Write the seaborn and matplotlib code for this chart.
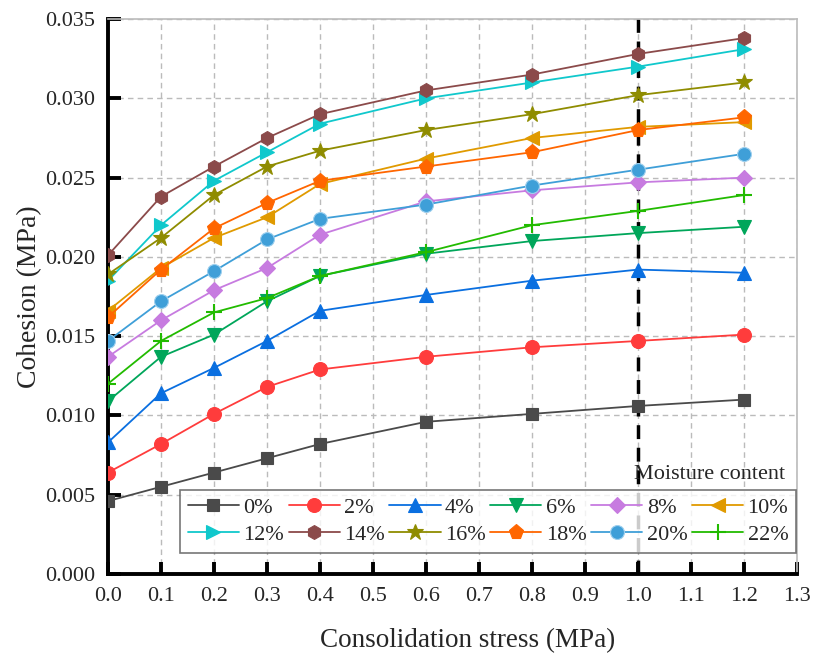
import numpy as np
import pandas as pd
import matplotlib
matplotlib.use("Agg")
import matplotlib.pyplot as plt
import seaborn as sns

# consolidation stress (MPa)
stress = [0.0, 0.1, 0.2, 0.3, 0.4, 0.6, 0.8, 1.0, 1.2]

moisture = ["0%", "2%", "4%", "6%", "8%", "10%",
            "12%", "14%", "16%", "18%", "20%", "22%"]

# cohesion (MPa)
c00 = [0.0046, 0.0055, 0.0064, 0.0073, 0.0082, 0.0096, 0.0101, 0.0106, 0.0110]
c02 = [0.0064, 0.0082, 0.0101, 0.0118, 0.0129, 0.0137, 0.0143, 0.0147, 0.0151]
c04 = [0.0083, 0.0114, 0.0130, 0.0147, 0.0166, 0.0176, 0.0185, 0.0192, 0.0190]
c06 = [0.0109, 0.0137, 0.0151, 0.0172, 0.0188, 0.0202, 0.0210, 0.0215, 0.0219]
c08 = [0.0137, 0.0160, 0.0179, 0.0193, 0.0214, 0.0235, 0.0242, 0.0247, 0.0250]
c10 = [0.0166, 0.0193, 0.0212, 0.0225, 0.0246, 0.0262, 0.0275, 0.0282, 0.0285]
c12 = [0.0185, 0.0220, 0.0248, 0.0266, 0.0284, 0.0300, 0.0310, 0.0320, 0.0331]
c14 = [0.0201, 0.0238, 0.0257, 0.0275, 0.0290, 0.0305, 0.0315, 0.0328, 0.0338]
c16 = [0.0189, 0.0212, 0.0239, 0.0257, 0.0267, 0.0280, 0.0290, 0.0302, 0.0310]
c18 = [0.0162, 0.0192, 0.0218, 0.0234, 0.0248, 0.0257, 0.0266, 0.0280, 0.0288]
c20 = [0.0147, 0.0172, 0.0191, 0.0211, 0.0224, 0.0233, 0.0245, 0.0255, 0.0265]
c22 = [0.0120, 0.0147, 0.0165, 0.0174, 0.0188, 0.0203, 0.0220, 0.0229, 0.0239]

cohesion = [c00, c02, c04, c06, c08, c10, c12, c14, c16, c18, c20, c22]

colors = ["#4a4a4a", "#ff3c3c", "#0a6fe0", "#00a65a", "#c77be0", "#e09a00",
          "#10c8cc", "#8b4a4a", "#8f8c00", "#ff6600", "#3f9fd8", "#22bb00"]
markers = ["s", "o", "^", "v", "D", "<", ">", "h", "*", "p", "o", "+"]
msizes = [9, 10, 10, 10, 8, 10, 10, 10, 12, 11, 10, 12]

rows = []
for m, vals in zip(moisture, cohesion):
    for s, v in zip(stress, vals):
        rows.append({"stress": s, "cohesion": v, "moisture": m})
df = pd.DataFrame(rows)

sns.set_style("ticks")
plt.rcParams["font.family"] = ["Liberation Serif", "DejaVu Serif"]

fig = plt.figure(figsize=(8.15, 6.57), dpi=100)
ax = fig.add_axes([0.1325, 0.1263, 0.8455, 0.8447])

ax.axvline(1.0, color="black", lw=2.5, ls=(0, (4, 2.5)), zorder=1.5)

handles = []
for i, m in enumerate(moisture):
    sub = df[df["moisture"] == m]
    sns.lineplot(data=sub, x="stress", y="cohesion", ax=ax, color=colors[i],
                 marker=markers[i], markersize=msizes[i], lw=1.3,
                 markeredgecolor="#9fd0ee" if i == 10 else colors[i],
                 markeredgewidth=1.5 if markers[i] == "+" else 0.8,
                 legend=False, zorder=3)
    handles.append(ax.lines[-1])

ax.set_xlim(0, 1.3)
ax.set_ylim(0, 0.035)
ax.set_xticks(np.arange(0, 1.31, 0.1))
ax.set_yticks(np.arange(0, 0.0351, 0.005))
ax.xaxis.set_major_formatter(matplotlib.ticker.FormatStrFormatter("%.1f"))
ax.yaxis.set_major_formatter(matplotlib.ticker.FormatStrFormatter("%.3f"))
ax.grid(True, color="#bbbbbb", ls=(0, (4, 3)), lw=1)
ax.tick_params(direction="in", length=9, width=2.8, labelsize=16, color="black")
ax.tick_params(axis="x", pad=9)
ax.tick_params(axis="y", pad=9)
for side in ["left", "bottom"]:
    ax.spines[side].set_linewidth(2.8)
    ax.spines[side].set_color("black")
for side in ["top", "right"]:
    ax.spines[side].set_linewidth(1.2)
    ax.spines[side].set_color("#bbbbbb")

ax.set_xlabel("Consolidation stress (MPa)", fontsize=19.5, labelpad=16)
ax.xaxis.label.set_x(0.522)
ax.set_ylabel("Cohesion (MPa)", fontsize=20, labelpad=2)

# legend filled row by row (matplotlib fills columns first)
order = [0, 6, 1, 7, 2, 8, 3, 9, 4, 10, 5, 11]
leg = ax.legend([handles[k] for k in order], [moisture[k] for k in order],
                ncol=6, loc="upper left",
                bbox_to_anchor=(0.1045, 0.152, 0.894, 0.0), mode="expand",
                fontsize=16, frameon=True, fancybox=False, handlelength=2.3,
                handletextpad=0.2, columnspacing=0.2, borderpad=0.35,
                labelspacing=0.3, borderaxespad=0)
leg.get_frame().set_edgecolor("#555555")
leg.get_frame().set_linewidth(1.2)
leg.set_zorder(5)
ax.text(0.983, 0.163, "Moisture content", transform=ax.transAxes,
        ha="right", va="bottom", fontsize=16)

fig.savefig("out.png", dpi=100)
